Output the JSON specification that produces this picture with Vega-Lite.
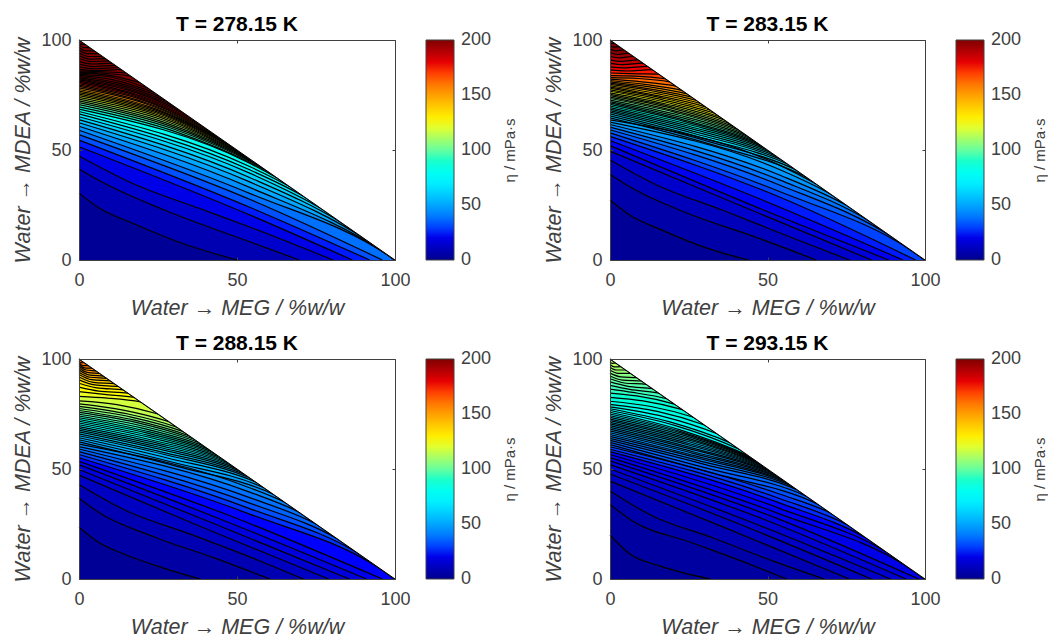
{"$schema":"https://vega.github.io/schema/vega-lite/v6.json","padding":{"left":12,"top":14,"right":0,"bottom":0},"background":"white","config":{"font":"Liberation Sans","view":{"stroke":null},"title":{"fontSize":21,"fontWeight":"bold","color":"black","offset":-4},"axis":{"grid":false,"domainColor":"#404040","tickColor":"#404040","labelColor":"#404040","titleColor":"#404040","labelFontSize":18,"labelFlush":false,"labelBound":false}},"datasets":{"h":[{"x":0,"y":100},{"x":100,"y":0}],
"a":[{"c":308,"x":0,"y":100},{"c":308,"x":100,"y":0},
{"c":302,"x":0,"y":98.8},{"c":302,"x":0.8,"y":98},{"c":302,"x":2,"y":98},{"c":302,"x":100,"y":0},
{"c":296,"x":0,"y":97.8},{"c":296,"x":1.4,"y":96.6},{"c":296,"x":3.5,"y":96.5},{"c":296,"x":100,"y":0},
{"c":290,"x":0,"y":96.6},{"c":290,"x":2,"y":95.1},{"c":290,"x":5,"y":95},{"c":290,"x":100,"y":0},
{"c":284,"x":0,"y":95.4},{"c":284,"x":2.5,"y":93.8},{"c":284,"x":6.2,"y":93.8},{"c":284,"x":100,"y":0},
{"c":278,"x":0,"y":94.2},{"c":278,"x":3,"y":92.5},{"c":278,"x":7.5,"y":92.5},{"c":278,"x":100,"y":0},
{"c":272,"x":0,"y":92.9},{"c":272,"x":3.4,"y":91.3},{"c":272,"x":8.5,"y":91.5},{"c":272,"x":100,"y":0},
{"c":266,"x":0,"y":91.6},{"c":266,"x":3.8,"y":90.2},{"c":266,"x":9.5,"y":90.5},{"c":266,"x":100,"y":0},
{"c":260,"x":0,"y":90.3},{"c":260,"x":4.2,"y":89.1},{"c":260,"x":10.5,"y":89.5},{"c":260,"x":100,"y":0},
{"c":254,"x":0,"y":89},{"c":254,"x":4.6,"y":87.9},{"c":254,"x":11.5,"y":88.5},{"c":254,"x":100,"y":0},
{"c":248,"x":0,"y":87.8},{"c":248,"x":5,"y":86.9},{"c":248,"x":12.5,"y":87.5},{"c":248,"x":100,"y":0},
{"c":242,"x":0,"y":86.8},{"c":242,"x":5.4,"y":86.1},{"c":242,"x":13.5,"y":86.5},{"c":242,"x":100,"y":0},
{"c":236,"x":0,"y":86},{"c":236,"x":6,"y":85.6},{"c":236,"x":15,"y":85},{"c":236,"x":100,"y":0},
{"c":230,"x":0,"y":85.4},{"c":230,"x":7,"y":85},{"c":230,"x":16.5,"y":83.5},{"c":230,"x":100,"y":0},
{"c":224,"x":0,"y":84.9},{"c":224,"x":8,"y":84.3},{"c":224,"x":19.5,"y":80.5},{"c":224,"x":100,"y":0},
{"c":218,"x":0,"y":84.4},{"c":218,"x":9,"y":83.4},{"c":218,"x":22,"y":78},{"c":218,"x":100,"y":0},
{"c":212,"x":0,"y":83.9},{"c":212,"x":10.5,"y":82},{"c":212,"x":24,"y":76},{"c":212,"x":100,"y":0},
{"c":206,"x":0,"y":83.4},{"c":206,"x":12,"y":80.6},{"c":206,"x":26,"y":74},{"c":206,"x":100,"y":0},
{"c":200,"x":0,"y":82.9},{"c":200,"x":13,"y":79.5},{"c":200,"x":28,"y":72},{"c":200,"x":100,"y":0},
{"c":194,"x":0,"y":82.4},{"c":194,"x":14.5,"y":78.2},{"c":194,"x":30,"y":70},{"c":194,"x":100,"y":0},
{"c":188,"x":0,"y":81.9},{"c":188,"x":15.5,"y":77.2},{"c":188,"x":32,"y":68},{"c":188,"x":100,"y":0},
{"c":182,"x":0,"y":81.3},{"c":182,"x":16.5,"y":76},{"c":182,"x":34,"y":66},{"c":182,"x":100,"y":0},
{"c":176,"x":0,"y":80.7},{"c":176,"x":17.5,"y":75},{"c":176,"x":36,"y":64},{"c":176,"x":100,"y":0},
{"c":170,"x":0,"y":80.1},{"c":170,"x":18.5,"y":74},{"c":170,"x":38,"y":62},{"c":170,"x":100,"y":0},
{"c":164,"x":0,"y":79.5},{"c":164,"x":19.5,"y":73},{"c":164,"x":40,"y":60},{"c":164,"x":100,"y":0},
{"c":158,"x":0,"y":78.9},{"c":158,"x":20.5,"y":71.8},{"c":158,"x":42,"y":58},{"c":158,"x":100,"y":0},
{"c":152,"x":0,"y":78.2},{"c":152,"x":21.5,"y":70.8},{"c":152,"x":43.5,"y":56.5},{"c":152,"x":100,"y":0},
{"c":146,"x":0,"y":77.5},{"c":146,"x":22,"y":69.8},{"c":146,"x":45,"y":55},{"c":146,"x":100,"y":0},
{"c":140,"x":0,"y":76.8},{"c":140,"x":23,"y":68.8},{"c":140,"x":46.5,"y":53.5},{"c":140,"x":100,"y":0},
{"c":134,"x":0,"y":76.1},{"c":134,"x":24,"y":67.7},{"c":134,"x":48,"y":52},{"c":134,"x":100,"y":0},
{"c":128,"x":0,"y":75.4},{"c":128,"x":24.5,"y":66.8},{"c":128,"x":49.5,"y":50.5},{"c":128,"x":100,"y":0},
{"c":122,"x":0,"y":74.7},{"c":122,"x":25,"y":65.9},{"c":122,"x":51,"y":49},{"c":122,"x":100,"y":0},
{"c":116,"x":0,"y":73.9},{"c":116,"x":26,"y":64.7},{"c":116,"x":52.5,"y":47.5},{"c":116,"x":100,"y":0},
{"c":110,"x":0,"y":73.1},{"c":110,"x":27,"y":63.4},{"c":110,"x":53.7,"y":46.3},{"c":110,"x":100,"y":0},
{"c":104,"x":0,"y":72.3},{"c":104,"x":27.5,"y":62.3},{"c":104,"x":55,"y":45},{"c":104,"x":100,"y":0},
{"c":98,"x":0,"y":71.5},{"c":98,"x":28,"y":61.3},{"c":98,"x":56.5,"y":43.5},{"c":98,"x":100,"y":0},
{"c":92,"x":0,"y":70.6},{"c":92,"x":29,"y":60},{"c":92,"x":58,"y":42},{"c":92,"x":100,"y":0},
{"c":86,"x":0,"y":69.6},{"c":86,"x":30,"y":58.6},{"c":86,"x":60,"y":40},{"c":86,"x":100,"y":0},
{"c":80,"x":0,"y":68.6},{"c":80,"x":54,"y":44},{"c":80,"x":63,"y":37},{"c":80,"x":100,"y":0},
{"c":74,"x":0,"y":67.5},{"c":74,"x":54,"y":42.5},{"c":74,"x":66.5,"y":33.5},{"c":74,"x":100,"y":0},
{"c":68,"x":0,"y":66.4},{"c":68,"x":54,"y":41},{"c":68,"x":71,"y":29},{"c":68,"x":100,"y":0},
{"c":62,"x":0,"y":65.1},{"c":62,"x":54,"y":39.5},{"c":62,"x":76.5,"y":23.5},{"c":62,"x":100,"y":0},
{"c":56,"x":0,"y":63.8},{"c":56,"x":54,"y":37.5},{"c":56,"x":83,"y":17},{"c":56,"x":100,"y":0},
{"c":50,"x":0,"y":62.4},{"c":50,"x":54,"y":35.5},{"c":50,"x":90,"y":10},{"c":50,"x":100,"y":0},
{"c":44,"x":0,"y":60.8},{"c":44,"x":54,"y":33},{"c":44,"x":97,"y":3},{"c":44,"x":100,"y":0},
{"c":38,"x":0,"y":59},{"c":38,"x":54,"y":30.3},{"c":38,"x":99,"y":1},{"c":38,"x":100,"y":0},
{"c":32,"x":0,"y":57},{"c":32,"x":54,"y":27.6},{"c":32,"x":96,"y":0},
{"c":26,"x":0,"y":54.5},{"c":26,"x":54,"y":24},{"c":26,"x":92,"y":0},
{"c":20,"x":0,"y":51.5},{"c":20,"x":54,"y":20.5},{"c":20,"x":86.5,"y":0},
{"c":14,"x":0,"y":47.3},{"c":14,"x":17,"y":34.8},{"c":14,"x":38,"y":23.5},{"c":14,"x":54,"y":15},{"c":14,"x":80.4,"y":0},
{"c":8,"x":0,"y":41.4},{"c":8,"x":6.5,"y":36},{"c":8,"x":27,"y":22.7},{"c":8,"x":54,"y":8.3},{"c":8,"x":69.7,"y":0},
{"c":2,"x":0,"y":30.4},{"c":2,"x":6.5,"y":23.5},{"c":2,"x":17,"y":16.7},{"c":2,"x":32.6,"y":7.6},{"c":2,"x":50,"y":0}],
"b":[{"c":210,"x":0,"y":100},{"c":210,"x":100,"y":0},
{"c":206,"x":0,"y":98.8},{"c":206,"x":0.6,"y":98.4},{"c":206,"x":1.5,"y":98.5},{"c":206,"x":100,"y":0},
{"c":202,"x":0,"y":97.4},{"c":202,"x":1.2,"y":96.8},{"c":202,"x":3,"y":97},{"c":202,"x":100,"y":0},
{"c":198,"x":0,"y":95.8},{"c":198,"x":1.8,"y":95.1},{"c":198,"x":4.5,"y":95.5},{"c":198,"x":100,"y":0},
{"c":194,"x":0,"y":94.2},{"c":194,"x":2.4,"y":93.4},{"c":194,"x":6,"y":94},{"c":194,"x":100,"y":0},
{"c":190,"x":0,"y":92.6},{"c":190,"x":3,"y":91.9},{"c":190,"x":7.5,"y":92.5},{"c":190,"x":100,"y":0},
{"c":186,"x":0,"y":91},{"c":186,"x":3.6,"y":90.3},{"c":186,"x":9,"y":91},{"c":186,"x":100,"y":0},
{"c":182,"x":0,"y":89.4},{"c":182,"x":4.2,"y":88.8},{"c":182,"x":10.5,"y":89.5},{"c":182,"x":100,"y":0},
{"c":178,"x":0,"y":87.8},{"c":178,"x":4.8,"y":87.3},{"c":178,"x":12,"y":88},{"c":178,"x":100,"y":0},
{"c":174,"x":0,"y":86.4},{"c":174,"x":5.4,"y":85.9},{"c":174,"x":13.5,"y":86.5},{"c":174,"x":100,"y":0},
{"c":170,"x":0,"y":85},{"c":170,"x":6.2,"y":84.7},{"c":170,"x":15.5,"y":84.5},{"c":170,"x":100,"y":0},
{"c":166,"x":0,"y":83.8},{"c":166,"x":8,"y":83.6},{"c":166,"x":17.6,"y":82.4},{"c":166,"x":100,"y":0},
{"c":162,"x":0,"y":82.9},{"c":162,"x":9,"y":82.5},{"c":162,"x":19,"y":81},{"c":162,"x":100,"y":0},
{"c":158,"x":0,"y":82.2},{"c":158,"x":10,"y":81},{"c":158,"x":21,"y":79},{"c":158,"x":100,"y":0},
{"c":154,"x":0,"y":81.6},{"c":154,"x":11,"y":79.8},{"c":154,"x":23,"y":77},{"c":154,"x":100,"y":0},
{"c":150,"x":0,"y":81},{"c":150,"x":12,"y":78.8},{"c":150,"x":24.5,"y":75.5},{"c":150,"x":100,"y":0},
{"c":146,"x":0,"y":80.4},{"c":146,"x":13,"y":77.7},{"c":146,"x":26,"y":74},{"c":146,"x":100,"y":0},
{"c":142,"x":0,"y":79.8},{"c":142,"x":14,"y":76.7},{"c":142,"x":27.5,"y":72.5},{"c":142,"x":100,"y":0},
{"c":138,"x":0,"y":79.2},{"c":138,"x":14.5,"y":75.7},{"c":138,"x":29,"y":71},{"c":138,"x":100,"y":0},
{"c":134,"x":0,"y":78.6},{"c":134,"x":15.5,"y":74.6},{"c":134,"x":30.5,"y":69.5},{"c":134,"x":100,"y":0},
{"c":130,"x":0,"y":78},{"c":130,"x":16,"y":73.8},{"c":130,"x":32,"y":68},{"c":130,"x":100,"y":0},
{"c":126,"x":0,"y":77.3},{"c":126,"x":17,"y":72.7},{"c":126,"x":33.5,"y":66.5},{"c":126,"x":100,"y":0},
{"c":122,"x":0,"y":76.7},{"c":122,"x":17.5,"y":71.8},{"c":122,"x":35,"y":65},{"c":122,"x":100,"y":0},
{"c":118,"x":0,"y":76},{"c":118,"x":18.5,"y":70.7},{"c":118,"x":36.5,"y":63.5},{"c":118,"x":100,"y":0},
{"c":114,"x":0,"y":75.3},{"c":114,"x":19,"y":69.8},{"c":114,"x":38,"y":62},{"c":114,"x":100,"y":0},
{"c":110,"x":0,"y":74.7},{"c":110,"x":20,"y":68.8},{"c":110,"x":39.5,"y":60.5},{"c":110,"x":100,"y":0},
{"c":106,"x":0,"y":74},{"c":106,"x":20.5,"y":67.8},{"c":106,"x":41,"y":59},{"c":106,"x":100,"y":0},
{"c":102,"x":0,"y":73.4},{"c":102,"x":21,"y":67},{"c":102,"x":42.5,"y":57.5},{"c":102,"x":100,"y":0},
{"c":98,"x":0,"y":72.7},{"c":98,"x":22,"y":65.8},{"c":98,"x":43.7,"y":56.3},{"c":98,"x":100,"y":0},
{"c":94,"x":0,"y":72},{"c":94,"x":22.5,"y":64.8},{"c":94,"x":45,"y":55},{"c":94,"x":100,"y":0},
{"c":90,"x":0,"y":71.4},{"c":90,"x":23,"y":63.8},{"c":90,"x":46.2,"y":53.8},{"c":90,"x":100,"y":0},
{"c":86,"x":0,"y":70.7},{"c":86,"x":24,"y":62.8},{"c":86,"x":47.5,"y":52.5},{"c":86,"x":100,"y":0},
{"c":82,"x":0,"y":70},{"c":82,"x":24.5,"y":61.8},{"c":82,"x":48.7,"y":51.3},{"c":82,"x":100,"y":0},
{"c":78,"x":0,"y":69.3},{"c":78,"x":25,"y":60.8},{"c":78,"x":50,"y":50},{"c":78,"x":100,"y":0},
{"c":74,"x":0,"y":68.6},{"c":74,"x":26,"y":59.6},{"c":74,"x":51.5,"y":48.5},{"c":74,"x":100,"y":0},
{"c":70,"x":0,"y":67.9},{"c":70,"x":26.5,"y":58.5},{"c":70,"x":53,"y":47},{"c":70,"x":100,"y":0},
{"c":66,"x":0,"y":67.2},{"c":66,"x":27,"y":57.4},{"c":66,"x":54.5,"y":45.5},{"c":66,"x":100,"y":0},
{"c":62,"x":0,"y":66.4},{"c":62,"x":28,"y":56},{"c":62,"x":56.5,"y":43.5},{"c":62,"x":100,"y":0},
{"c":58,"x":0,"y":65.5},{"c":58,"x":29.5,"y":54.6},{"c":58,"x":59,"y":41},{"c":58,"x":100,"y":0},
{"c":54,"x":0,"y":64.6},{"c":54,"x":31,"y":53},{"c":54,"x":62,"y":38},{"c":54,"x":100,"y":0},
{"c":50,"x":0,"y":63.7},{"c":50,"x":54,"y":43},{"c":50,"x":65.5,"y":34.5},{"c":50,"x":100,"y":0},
{"c":46,"x":0,"y":62.7},{"c":46,"x":54,"y":41},{"c":46,"x":70,"y":30},{"c":46,"x":100,"y":0},
{"c":42,"x":0,"y":61.6},{"c":42,"x":54,"y":38.5},{"c":42,"x":75.5,"y":24.5},{"c":42,"x":100,"y":0},
{"c":38,"x":0,"y":60.4},{"c":38,"x":54,"y":36.3},{"c":38,"x":82,"y":18},{"c":38,"x":100,"y":0},
{"c":34,"x":0,"y":59.2},{"c":34,"x":54,"y":34},{"c":34,"x":89,"y":11},{"c":34,"x":100,"y":0},
{"c":30,"x":0,"y":57.8},{"c":30,"x":54,"y":31},{"c":30,"x":96,"y":4},{"c":30,"x":100,"y":0},
{"c":26,"x":0,"y":56.2},{"c":26,"x":54,"y":28.5},{"c":26,"x":97,"y":0},
{"c":22,"x":0,"y":54.3},{"c":22,"x":48,"y":27.5},{"c":22,"x":93,"y":0},
{"c":18,"x":0,"y":52},{"c":18,"x":44,"y":25.5},{"c":18,"x":88.5,"y":0},
{"c":14,"x":0,"y":49.5},{"c":14,"x":41,"y":25},{"c":14,"x":83,"y":0},
{"c":10,"x":0,"y":45.5},{"c":10,"x":15,"y":34},{"c":10,"x":36,"y":22.5},{"c":10,"x":58,"y":10},{"c":10,"x":76,"y":0},
{"c":6,"x":0,"y":39},{"c":6,"x":6,"y":33.5},{"c":6,"x":25,"y":21},{"c":6,"x":46,"y":10.5},{"c":6,"x":65.5,"y":0},
{"c":2,"x":0,"y":27.3},{"c":2,"x":6,"y":20.7},{"c":2,"x":16.5,"y":13.6},{"c":2,"x":31,"y":5.3},{"c":2,"x":44,"y":0}],
"d3":[{"c":165,"x":0,"y":100},{"c":165,"x":100,"y":0},
{"c":162,"x":0,"y":98.9},{"c":162,"x":0.6,"y":98.2},{"c":162,"x":1.6,"y":98.4},{"c":162,"x":100,"y":0},
{"c":158,"x":0,"y":98.2},{"c":158,"x":1.2,"y":97},{"c":158,"x":3,"y":97},{"c":158,"x":100,"y":0},
{"c":155,"x":0,"y":97.5},{"c":155,"x":1.7,"y":96},{"c":155,"x":4.2,"y":95.8},{"c":155,"x":100,"y":0},
{"c":152,"x":0,"y":96.7},{"c":152,"x":2.2,"y":95},{"c":152,"x":5.4,"y":94.6},{"c":152,"x":100,"y":0},
{"c":148,"x":0,"y":95.9},{"c":148,"x":2.6,"y":93.9},{"c":148,"x":6.6,"y":93.4},{"c":148,"x":100,"y":0},
{"c":145,"x":0,"y":95},{"c":145,"x":3.1,"y":92.8},{"c":145,"x":7.8,"y":92.2},{"c":145,"x":100,"y":0},
{"c":142,"x":0,"y":94},{"c":142,"x":3.5,"y":91.7},{"c":142,"x":8.8,"y":91.2},{"c":142,"x":100,"y":0},
{"c":138,"x":0,"y":93},{"c":138,"x":4,"y":90.6},{"c":138,"x":10,"y":90},{"c":138,"x":100,"y":0},
{"c":135,"x":0,"y":91.8},{"c":135,"x":4.5,"y":89.4},{"c":135,"x":11.2,"y":88.8},{"c":135,"x":100,"y":0},
{"c":132,"x":0,"y":90.5},{"c":132,"x":5,"y":88.2},{"c":132,"x":12.5,"y":87.5},{"c":132,"x":100,"y":0},
{"c":128,"x":0,"y":89},{"c":128,"x":5.6,"y":86.9},{"c":128,"x":14,"y":86},{"c":128,"x":100,"y":0},
{"c":125,"x":0,"y":87.2},{"c":125,"x":6.2,"y":85.4},{"c":125,"x":15.5,"y":84.5},{"c":125,"x":100,"y":0},
{"c":122,"x":0,"y":85.2},{"c":122,"x":8,"y":83.9},{"c":122,"x":17.5,"y":82.5},{"c":122,"x":100,"y":0},
{"c":118,"x":0,"y":83},{"c":118,"x":9,"y":82.2},{"c":118,"x":19.5,"y":80.5},{"c":118,"x":100,"y":0},
{"c":115,"x":0,"y":81},{"c":115,"x":12,"y":79.3},{"c":115,"x":25,"y":75},{"c":115,"x":100,"y":0},
{"c":112,"x":0,"y":79.6},{"c":112,"x":14,"y":76.8},{"c":112,"x":28.5,"y":71.5},{"c":112,"x":100,"y":0},
{"c":108,"x":0,"y":78.5},{"c":108,"x":15.5,"y":75},{"c":108,"x":31,"y":69},{"c":108,"x":100,"y":0},
{"c":105,"x":0,"y":77.5},{"c":105,"x":16.5,"y":73.6},{"c":105,"x":33,"y":67},{"c":105,"x":100,"y":0},
{"c":102,"x":0,"y":76.6},{"c":102,"x":17.5,"y":72.2},{"c":102,"x":35,"y":65},{"c":102,"x":100,"y":0},
{"c":98,"x":0,"y":75.7},{"c":98,"x":18,"y":71.2},{"c":98,"x":36.5,"y":63.5},{"c":98,"x":100,"y":0},
{"c":95,"x":0,"y":74.9},{"c":95,"x":19,"y":69.9},{"c":95,"x":38,"y":62},{"c":95,"x":100,"y":0},
{"c":92,"x":0,"y":74.1},{"c":92,"x":20,"y":68.6},{"c":92,"x":39.5,"y":60.5},{"c":92,"x":100,"y":0},
{"c":88,"x":0,"y":73.3},{"c":88,"x":20.5,"y":67.5},{"c":88,"x":41,"y":59},{"c":88,"x":100,"y":0},
{"c":85,"x":0,"y":72.5},{"c":85,"x":21,"y":66.5},{"c":85,"x":42.2,"y":57.8},{"c":85,"x":100,"y":0},
{"c":82,"x":0,"y":71.7},{"c":82,"x":22,"y":65.3},{"c":82,"x":43.5,"y":56.5},{"c":82,"x":100,"y":0},
{"c":78,"x":0,"y":70.9},{"c":78,"x":22.5,"y":64.3},{"c":78,"x":44.8,"y":55.2},{"c":78,"x":100,"y":0},
{"c":75,"x":0,"y":70.1},{"c":75,"x":23,"y":63.2},{"c":75,"x":46,"y":54},{"c":75,"x":100,"y":0},
{"c":72,"x":0,"y":69.3},{"c":72,"x":23.5,"y":62.2},{"c":72,"x":47.2,"y":52.8},{"c":72,"x":100,"y":0},
{"c":68,"x":0,"y":68.5},{"c":68,"x":24,"y":61.2},{"c":68,"x":48.4,"y":51.6},{"c":68,"x":100,"y":0},
{"c":65,"x":0,"y":67.7},{"c":65,"x":25,"y":60},{"c":65,"x":49.7,"y":50.3},{"c":65,"x":100,"y":0},
{"c":62,"x":0,"y":66.9},{"c":62,"x":25.5,"y":59},{"c":62,"x":51,"y":49},{"c":62,"x":100,"y":0},
{"c":58,"x":0,"y":66},{"c":58,"x":26,"y":57.8},{"c":58,"x":52.5,"y":47.5},{"c":58,"x":100,"y":0},
{"c":55,"x":0,"y":65.1},{"c":55,"x":27,"y":56.6},{"c":55,"x":54,"y":46},{"c":55,"x":100,"y":0},
{"c":52,"x":0,"y":64.2},{"c":52,"x":28,"y":55},{"c":52,"x":56,"y":44},{"c":52,"x":100,"y":0},
{"c":48,"x":0,"y":63.3},{"c":48,"x":29,"y":53.3},{"c":48,"x":58.5,"y":41.5},{"c":48,"x":100,"y":0},
{"c":45,"x":0,"y":62.3},{"c":45,"x":31,"y":51.2},{"c":45,"x":61.5,"y":38.5},{"c":45,"x":100,"y":0},
{"c":42,"x":0,"y":61.3},{"c":42,"x":54,"y":41.5},{"c":42,"x":65,"y":35},{"c":42,"x":100,"y":0},
{"c":38,"x":0,"y":60.2},{"c":38,"x":54,"y":39.5},{"c":38,"x":69.5,"y":30.5},{"c":38,"x":100,"y":0},
{"c":35,"x":0,"y":59.1},{"c":35,"x":54,"y":37},{"c":35,"x":75,"y":25},{"c":35,"x":100,"y":0},
{"c":32,"x":0,"y":57.9},{"c":32,"x":54,"y":34.5},{"c":32,"x":81.5,"y":18.5},{"c":32,"x":100,"y":0},
{"c":28,"x":0,"y":56.6},{"c":28,"x":54,"y":32},{"c":28,"x":88.5,"y":11.5},{"c":28,"x":100,"y":0},
{"c":25,"x":0,"y":55.1},{"c":25,"x":54,"y":29.5},{"c":25,"x":95.5,"y":4.5},{"c":25,"x":100,"y":0},
{"c":22,"x":0,"y":53.5},{"c":22,"x":50,"y":27.5},{"c":22,"x":96,"y":0},
{"c":18,"x":0,"y":51.9},{"c":18,"x":46,"y":26.5},{"c":18,"x":91,"y":0},
{"c":15,"x":0,"y":49.8},{"c":15,"x":43,"y":25},{"c":15,"x":85.5,"y":0},
{"c":12,"x":0,"y":47.2},{"c":12,"x":39,"y":23.5},{"c":12,"x":79,"y":0},
{"c":8,"x":0,"y":43},{"c":8,"x":15,"y":31},{"c":8,"x":35,"y":20.5},{"c":8,"x":55,"y":9.5},{"c":8,"x":71,"y":0},
{"c":5,"x":0,"y":36.7},{"c":5,"x":6,"y":30.5},{"c":5,"x":24,"y":19},{"c":5,"x":43,"y":9.5},{"c":5,"x":60.4,"y":0},
{"c":2,"x":0,"y":23.5},{"c":2,"x":5.4,"y":17.4},{"c":2,"x":15,"y":10.9},{"c":2,"x":26,"y":5.3},{"c":2,"x":38.4,"y":0}],
"d4":[{"c":115,"x":0,"y":100},{"c":115,"x":100,"y":0},
{"c":112,"x":0,"y":98.7},{"c":112,"x":0.7,"y":98},{"c":112,"x":1.8,"y":98.2},{"c":112,"x":100,"y":0},
{"c":110,"x":0,"y":97.5},{"c":110,"x":1.4,"y":96.4},{"c":110,"x":3.5,"y":96.5},{"c":110,"x":100,"y":0},
{"c":108,"x":0,"y":96.3},{"c":108,"x":2,"y":95},{"c":108,"x":5,"y":95},{"c":108,"x":100,"y":0},
{"c":105,"x":0,"y":95},{"c":105,"x":2.6,"y":93.5},{"c":105,"x":6.5,"y":93.5},{"c":105,"x":100,"y":0},
{"c":103,"x":0,"y":93.6},{"c":103,"x":3.4,"y":91.9},{"c":103,"x":8.5,"y":91.5},{"c":103,"x":100,"y":0},
{"c":101,"x":0,"y":92.3},{"c":101,"x":4,"y":90.4},{"c":101,"x":10,"y":90},{"c":101,"x":100,"y":0},
{"c":98,"x":0,"y":91},{"c":98,"x":4.6,"y":89.1},{"c":98,"x":11.5,"y":88.5},{"c":98,"x":100,"y":0},
{"c":96,"x":0,"y":89.6},{"c":96,"x":5.4,"y":87.7},{"c":96,"x":13.5,"y":86.5},{"c":96,"x":100,"y":0},
{"c":94,"x":0,"y":88},{"c":94,"x":6.2,"y":86.2},{"c":94,"x":15.5,"y":84.5},{"c":94,"x":100,"y":0},
{"c":92,"x":0,"y":86.3},{"c":92,"x":7.2,"y":84.8},{"c":92,"x":18,"y":82},{"c":92,"x":100,"y":0},
{"c":89,"x":0,"y":84.5},{"c":89,"x":8.5,"y":83.2},{"c":89,"x":20.5,"y":79.5},{"c":89,"x":100,"y":0},
{"c":87,"x":0,"y":82.6},{"c":87,"x":10.5,"y":81},{"c":87,"x":23,"y":77},{"c":87,"x":100,"y":0},
{"c":85,"x":0,"y":80.8},{"c":85,"x":13,"y":78.4},{"c":85,"x":26.5,"y":73.5},{"c":85,"x":100,"y":0},
{"c":82,"x":0,"y":79.4},{"c":82,"x":15,"y":76.2},{"c":82,"x":30,"y":70},{"c":82,"x":100,"y":0},
{"c":80,"x":0,"y":78.2},{"c":80,"x":17,"y":73.8},{"c":80,"x":34,"y":66},{"c":80,"x":100,"y":0},
{"c":78,"x":0,"y":77.4},{"c":78,"x":19,"y":71.4},{"c":78,"x":38,"y":62},{"c":78,"x":100,"y":0},
{"c":75,"x":0,"y":76.6},{"c":75,"x":20.5,"y":69.8},{"c":75,"x":41,"y":59},{"c":75,"x":100,"y":0},
{"c":73,"x":0,"y":75.8},{"c":73,"x":22,"y":67.9},{"c":73,"x":44,"y":56},{"c":73,"x":100,"y":0},
{"c":71,"x":0,"y":75},{"c":71,"x":22.5,"y":67},{"c":71,"x":45,"y":55},{"c":71,"x":100,"y":0},
{"c":69,"x":0,"y":74.2},{"c":69,"x":23,"y":66.2},{"c":69,"x":45.8,"y":54.2},{"c":69,"x":100,"y":0},
{"c":66,"x":0,"y":73.5},{"c":66,"x":23.5,"y":65.3},{"c":66,"x":46.6,"y":53.4},{"c":66,"x":100,"y":0},
{"c":64,"x":0,"y":72.7},{"c":64,"x":24,"y":64.3},{"c":64,"x":47.4,"y":52.6},{"c":64,"x":100,"y":0},
{"c":62,"x":0,"y":72},{"c":62,"x":24,"y":63.6},{"c":62,"x":48.2,"y":51.8},{"c":62,"x":100,"y":0},
{"c":59,"x":0,"y":71.2},{"c":59,"x":24.5,"y":62.6},{"c":59,"x":49,"y":51},{"c":59,"x":100,"y":0},
{"c":57,"x":0,"y":70.5},{"c":57,"x":25,"y":61.6},{"c":57,"x":49.8,"y":50.2},{"c":57,"x":100,"y":0},
{"c":55,"x":0,"y":69.7},{"c":55,"x":25,"y":60.9},{"c":55,"x":50.6,"y":49.4},{"c":55,"x":100,"y":0},
{"c":52,"x":0,"y":68.9},{"c":52,"x":26,"y":59.6},{"c":52,"x":51.5,"y":48.5},{"c":52,"x":100,"y":0},
{"c":50,"x":0,"y":68.1},{"c":50,"x":26,"y":58.9},{"c":50,"x":52.4,"y":47.6},{"c":50,"x":100,"y":0},
{"c":48,"x":0,"y":67.3},{"c":48,"x":27,"y":57.6},{"c":48,"x":53.4,"y":46.6},{"c":48,"x":100,"y":0},
{"c":46,"x":0,"y":66.5},{"c":46,"x":27,"y":56.9},{"c":46,"x":54.4,"y":45.6},{"c":46,"x":100,"y":0},
{"c":43,"x":0,"y":65.7},{"c":43,"x":28,"y":55.6},{"c":43,"x":55.5,"y":44.5},{"c":43,"x":100,"y":0},
{"c":41,"x":0,"y":64.8},{"c":41,"x":28,"y":54.9},{"c":41,"x":56.7,"y":43.3},{"c":41,"x":100,"y":0},
{"c":39,"x":0,"y":63.9},{"c":39,"x":29,"y":53.5},{"c":39,"x":58,"y":42},{"c":39,"x":100,"y":0},
{"c":36,"x":0,"y":63},{"c":36,"x":30,"y":52.1},{"c":36,"x":59.5,"y":40.5},{"c":36,"x":100,"y":0},
{"c":34,"x":0,"y":62.1},{"c":34,"x":31,"y":50.3},{"c":34,"x":62.5,"y":37.5},{"c":34,"x":100,"y":0},
{"c":32,"x":0,"y":61.1},{"c":32,"x":33,"y":48},{"c":32,"x":66,"y":34},{"c":32,"x":100,"y":0},
{"c":29,"x":0,"y":60.1},{"c":29,"x":54,"y":38.5},{"c":29,"x":70,"y":30},{"c":29,"x":100,"y":0},
{"c":27,"x":0,"y":59},{"c":27,"x":54,"y":36.5},{"c":27,"x":75.5,"y":24.5},{"c":27,"x":100,"y":0},
{"c":25,"x":0,"y":57.9},{"c":25,"x":54,"y":34.5},{"c":25,"x":81.5,"y":18.5},{"c":25,"x":100,"y":0},
{"c":22,"x":0,"y":56.6},{"c":22,"x":54,"y":32},{"c":22,"x":88,"y":12},{"c":22,"x":100,"y":0},
{"c":20,"x":0,"y":55.2},{"c":20,"x":54,"y":29.5},{"c":20,"x":95,"y":5},{"c":20,"x":100,"y":0},
{"c":18,"x":0,"y":53.7},{"c":18,"x":54,"y":27},{"c":18,"x":98,"y":0},
{"c":15,"x":0,"y":52},{"c":15,"x":50,"y":26.5},{"c":15,"x":94,"y":0},
{"c":13,"x":0,"y":50},{"c":13,"x":44.5,"y":26},{"c":13,"x":89,"y":0},
{"c":11,"x":0,"y":47.7},{"c":11,"x":41,"y":25},{"c":11,"x":83,"y":0},
{"c":8,"x":0,"y":44.5},{"c":8,"x":37,"y":23},{"c":8,"x":76,"y":0},
{"c":6,"x":0,"y":40},{"c":6,"x":13,"y":29},{"c":6,"x":33,"y":18.5},{"c":6,"x":52,"y":8},{"c":6,"x":68,"y":0},
{"c":4,"x":0,"y":33.9},{"c":4,"x":7,"y":26.5},{"c":4,"x":26,"y":16.5},{"c":4,"x":42,"y":8},{"c":4,"x":56,"y":0},
{"c":2,"x":0,"y":20},{"c":2,"x":6,"y":11.7},{"c":2,"x":16.5,"y":5.6},{"c":2,"x":31.8,"y":0}]},
"columns":2,"bounds":"flush","spacing":{"row":99,"column":215},
"resolve":{"scale":{"color":"independent"},"legend":{"color":"independent"}},
"concat":[
{"width":316,"height":220,"title":"T = 278.15 K","layer":[
{"data":{"name":"a"},"mark":{"type":"area","interpolate":"monotone"},"encoding":{"x":{"field":"x","type":"quantitative","scale":{"domain":[0,100],"nice":false},"axis":{"orient":"bottom","values":[0,50,100],"tickSize":-3,"labelPadding":14,"title":"Water → MEG / %w/w","titleFontStyle":"italic","titleFontWeight":"normal","titleFontSize":21.5,"titlePadding":8,"zindex":1}},"y":{"field":"y","type":"quantitative","stack":null,"scale":{"domain":[0,100],"nice":false},"axis":{"orient":"left","values":[0,50,100],"tickSize":-3,"labelPadding":11,"title":"Water → MDEA / %w/w","titleFontStyle":"italic","titleFontWeight":"normal","titleFontSize":21.5,"titlePadding":6,"zindex":1}},"detail":{"field":"c"},"color":{"field":"c","type":"quantitative","scale":{"domain":[0,25,75,125,175,200],"range":["#00008f","#0000ff","#00ffff","#ffff00","#ff0000","#800000"],"clamp":true},"legend":{"orient":"none","legendX":347,"legendY":0,"title":null,"gradientLength":220,"gradientThickness":28,"gradientStrokeColor":"#404040","gradientStrokeWidth":1,"values":[0,50,100,150,200],"labelFontSize":18,"labelColor":"#404040","labelOffset":7,"encode":{"labels":{"update":{"baseline":{"value":"middle"}}}}}}}},
{"data":{"name":"a"},"mark":{"type":"line","interpolate":"monotone","color":"black","strokeWidth":1.2},"encoding":{"x":{"field":"x","type":"quantitative","scale":{"domain":[0,100],"nice":false},"axis":null},"y":{"field":"y","type":"quantitative","stack":null,"scale":{"domain":[0,100],"nice":false},"axis":null},"detail":{"field":"c"}}},
{"data":{"name":"h"},"mark":{"type":"area","color":"white"},"encoding":{"x":{"field":"x","type":"quantitative","scale":{"domain":[0,100],"nice":false},"axis":null},"y":{"field":"y","type":"quantitative","stack":null,"scale":{"domain":[0,100],"nice":false},"axis":null},"y2":{"datum":100}}},
{"data":{"name":"h"},"mark":{"type":"line","color":"black","strokeWidth":1},"encoding":{"x":{"field":"x","type":"quantitative","scale":{"domain":[0,100],"nice":false},"axis":{"orient":"top","values":[0,50,100],"tickSize":-3,"labels":false,"title":null,"zindex":1}},"y":{"field":"y","type":"quantitative","scale":{"domain":[0,100],"nice":false},"axis":{"orient":"right","values":[0,50,100],"tickSize":-3,"labels":false,"title":"η / mPa·s","titleFontSize":15,"titleFontWeight":"normal","titleAngle":270,"titlePadding":122,"zindex":1}}}}
],"resolve":{"axis":{"x":"independent","y":"independent"}}},
{"width":315,"height":220,"title":"T = 283.15 K","layer":[
{"data":{"name":"b"},"mark":{"type":"area","interpolate":"monotone"},"encoding":{"x":{"field":"x","type":"quantitative","scale":{"domain":[0,100],"nice":false},"axis":{"orient":"bottom","values":[0,50,100],"tickSize":-3,"labelPadding":14,"title":"Water → MEG / %w/w","titleFontStyle":"italic","titleFontWeight":"normal","titleFontSize":21.5,"titlePadding":8,"zindex":1}},"y":{"field":"y","type":"quantitative","stack":null,"scale":{"domain":[0,100],"nice":false},"axis":{"orient":"left","values":[0,50,100],"tickSize":-3,"labelPadding":11,"title":"Water → MDEA / %w/w","titleFontStyle":"italic","titleFontWeight":"normal","titleFontSize":21.5,"titlePadding":6,"zindex":1}},"detail":{"field":"c"},"color":{"field":"c","type":"quantitative","scale":{"domain":[0,25,75,125,175,200],"range":["#00008f","#0000ff","#00ffff","#ffff00","#ff0000","#800000"],"clamp":true},"legend":{"orient":"none","legendX":346,"legendY":0,"title":null,"gradientLength":220,"gradientThickness":28,"gradientStrokeColor":"#404040","gradientStrokeWidth":1,"values":[0,50,100,150,200],"labelFontSize":18,"labelColor":"#404040","labelOffset":7,"encode":{"labels":{"update":{"baseline":{"value":"middle"}}}}}}}},
{"data":{"name":"b"},"mark":{"type":"line","interpolate":"monotone","color":"black","strokeWidth":1.2},"encoding":{"x":{"field":"x","type":"quantitative","scale":{"domain":[0,100],"nice":false},"axis":null},"y":{"field":"y","type":"quantitative","stack":null,"scale":{"domain":[0,100],"nice":false},"axis":null},"detail":{"field":"c"}}},
{"data":{"name":"h"},"mark":{"type":"area","color":"white"},"encoding":{"x":{"field":"x","type":"quantitative","scale":{"domain":[0,100],"nice":false},"axis":null},"y":{"field":"y","type":"quantitative","stack":null,"scale":{"domain":[0,100],"nice":false},"axis":null},"y2":{"datum":100}}},
{"data":{"name":"h"},"mark":{"type":"line","color":"black","strokeWidth":1},"encoding":{"x":{"field":"x","type":"quantitative","scale":{"domain":[0,100],"nice":false},"axis":{"orient":"top","values":[0,50,100],"tickSize":-3,"labels":false,"title":null,"zindex":1}},"y":{"field":"y","type":"quantitative","scale":{"domain":[0,100],"nice":false},"axis":{"orient":"right","values":[0,50,100],"tickSize":-3,"labels":false,"title":"η / mPa·s","titleFontSize":15,"titleFontWeight":"normal","titleAngle":270,"titlePadding":122,"zindex":1}}}}
],"resolve":{"axis":{"x":"independent","y":"independent"}}},
{"width":316,"height":220,"title":"T = 288.15 K","layer":[
{"data":{"name":"d3"},"mark":{"type":"area","interpolate":"monotone"},"encoding":{"x":{"field":"x","type":"quantitative","scale":{"domain":[0,100],"nice":false},"axis":{"orient":"bottom","values":[0,50,100],"tickSize":-3,"labelPadding":14,"title":"Water → MEG / %w/w","titleFontStyle":"italic","titleFontWeight":"normal","titleFontSize":21.5,"titlePadding":8,"zindex":1}},"y":{"field":"y","type":"quantitative","stack":null,"scale":{"domain":[0,100],"nice":false},"axis":{"orient":"left","values":[0,50,100],"tickSize":-3,"labelPadding":11,"title":"Water → MDEA / %w/w","titleFontStyle":"italic","titleFontWeight":"normal","titleFontSize":21.5,"titlePadding":6,"zindex":1}},"detail":{"field":"c"},"color":{"field":"c","type":"quantitative","scale":{"domain":[0,25,75,125,175,200],"range":["#00008f","#0000ff","#00ffff","#ffff00","#ff0000","#800000"],"clamp":true},"legend":{"orient":"none","legendX":347,"legendY":0,"title":null,"gradientLength":220,"gradientThickness":28,"gradientStrokeColor":"#404040","gradientStrokeWidth":1,"values":[0,50,100,150,200],"labelFontSize":18,"labelColor":"#404040","labelOffset":7,"encode":{"labels":{"update":{"baseline":{"value":"middle"}}}}}}}},
{"data":{"name":"d3"},"mark":{"type":"line","interpolate":"monotone","color":"black","strokeWidth":1.2},"encoding":{"x":{"field":"x","type":"quantitative","scale":{"domain":[0,100],"nice":false},"axis":null},"y":{"field":"y","type":"quantitative","stack":null,"scale":{"domain":[0,100],"nice":false},"axis":null},"detail":{"field":"c"}}},
{"data":{"name":"h"},"mark":{"type":"area","color":"white"},"encoding":{"x":{"field":"x","type":"quantitative","scale":{"domain":[0,100],"nice":false},"axis":null},"y":{"field":"y","type":"quantitative","stack":null,"scale":{"domain":[0,100],"nice":false},"axis":null},"y2":{"datum":100}}},
{"data":{"name":"h"},"mark":{"type":"line","color":"black","strokeWidth":1},"encoding":{"x":{"field":"x","type":"quantitative","scale":{"domain":[0,100],"nice":false},"axis":{"orient":"top","values":[0,50,100],"tickSize":-3,"labels":false,"title":null,"zindex":1}},"y":{"field":"y","type":"quantitative","scale":{"domain":[0,100],"nice":false},"axis":{"orient":"right","values":[0,50,100],"tickSize":-3,"labels":false,"title":"η / mPa·s","titleFontSize":15,"titleFontWeight":"normal","titleAngle":270,"titlePadding":122,"zindex":1}}}}
],"resolve":{"axis":{"x":"independent","y":"independent"}}},
{"width":315,"height":220,"title":"T = 293.15 K","layer":[
{"data":{"name":"d4"},"mark":{"type":"area","interpolate":"monotone"},"encoding":{"x":{"field":"x","type":"quantitative","scale":{"domain":[0,100],"nice":false},"axis":{"orient":"bottom","values":[0,50,100],"tickSize":-3,"labelPadding":14,"title":"Water → MEG / %w/w","titleFontStyle":"italic","titleFontWeight":"normal","titleFontSize":21.5,"titlePadding":8,"zindex":1}},"y":{"field":"y","type":"quantitative","stack":null,"scale":{"domain":[0,100],"nice":false},"axis":{"orient":"left","values":[0,50,100],"tickSize":-3,"labelPadding":11,"title":"Water → MDEA / %w/w","titleFontStyle":"italic","titleFontWeight":"normal","titleFontSize":21.5,"titlePadding":6,"zindex":1}},"detail":{"field":"c"},"color":{"field":"c","type":"quantitative","scale":{"domain":[0,25,75,125,175,200],"range":["#00008f","#0000ff","#00ffff","#ffff00","#ff0000","#800000"],"clamp":true},"legend":{"orient":"none","legendX":346,"legendY":0,"title":null,"gradientLength":220,"gradientThickness":28,"gradientStrokeColor":"#404040","gradientStrokeWidth":1,"values":[0,50,100,150,200],"labelFontSize":18,"labelColor":"#404040","labelOffset":7,"encode":{"labels":{"update":{"baseline":{"value":"middle"}}}}}}}},
{"data":{"name":"d4"},"mark":{"type":"line","interpolate":"monotone","color":"black","strokeWidth":1.2},"encoding":{"x":{"field":"x","type":"quantitative","scale":{"domain":[0,100],"nice":false},"axis":null},"y":{"field":"y","type":"quantitative","stack":null,"scale":{"domain":[0,100],"nice":false},"axis":null},"detail":{"field":"c"}}},
{"data":{"name":"h"},"mark":{"type":"area","color":"white"},"encoding":{"x":{"field":"x","type":"quantitative","scale":{"domain":[0,100],"nice":false},"axis":null},"y":{"field":"y","type":"quantitative","stack":null,"scale":{"domain":[0,100],"nice":false},"axis":null},"y2":{"datum":100}}},
{"data":{"name":"h"},"mark":{"type":"line","color":"black","strokeWidth":1},"encoding":{"x":{"field":"x","type":"quantitative","scale":{"domain":[0,100],"nice":false},"axis":{"orient":"top","values":[0,50,100],"tickSize":-3,"labels":false,"title":null,"zindex":1}},"y":{"field":"y","type":"quantitative","scale":{"domain":[0,100],"nice":false},"axis":{"orient":"right","values":[0,50,100],"tickSize":-3,"labels":false,"title":"η / mPa·s","titleFontSize":15,"titleFontWeight":"normal","titleAngle":270,"titlePadding":122,"zindex":1}}}}
],"resolve":{"axis":{"x":"independent","y":"independent"}}}
]}
